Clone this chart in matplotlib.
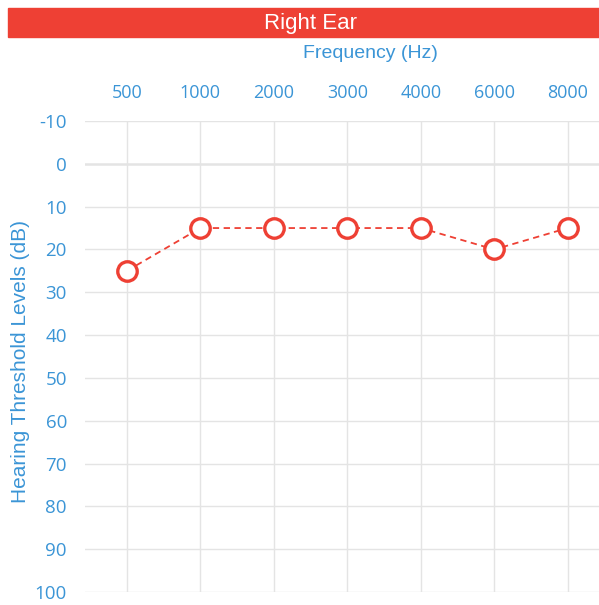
import matplotlib
matplotlib.use("Agg")
import matplotlib.pyplot as plt
from matplotlib.patches import Rectangle

# audiogram data, right ear
freq_labels = ["500", "1000", "2000", "3000", "4000", "6000", "8000"]
threshold_db = [25, 15, 15, 15, 15, 20, 15]
y_ticks = [-10, 0, 10, 20, 30, 40, 50, 60, 70, 80, 90, 100]

blue = "#3b95d6"
red = "#ee4034"
plt.rcParams['font.family'] = ['Open Sans', 'DejaVu Sans']
plt.rcParams['axes.unicode_minus'] = False
label_font = ['Liberation Sans', 'DejaVu Sans']

fig = plt.figure(figsize=(5.99, 6.05), dpi=100)
ax = fig.add_axes([85 / 599, 1 - 592 / 605, 1 - 85 / 599 + 0.03, (592 - 121) / 605])

x = list(range(len(freq_labels)))
ax.plot(x, threshold_db, color=red, ls=(0, (3.5, 2.5)), lw=1.3, marker="o", ms=14,
        mfc="white", mec=red, mew=2.4, zorder=3, clip_on=False)

ax.set_ylim(100, -10)
ax.set_xlim(-0.57, 6.67)
ax.set_yticks(y_ticks)
ax.set_xticks(x)
ax.set_xticklabels(freq_labels)
ax.xaxis.tick_top()
ax.xaxis.set_label_position("top")
ax.set_xlabel("Frequency (Hz)", color=blue, fontsize=14, family=label_font, va="center")
ax.xaxis.set_label_coords(0.536, 1.144)
ax.set_ylabel("Hearing Threshold Levels (dB)", color=blue, fontsize=15,
              family=label_font, va="center")
ax.yaxis.set_label_coords(-0.122, 0.49)
ax.tick_params(axis="both", length=0, colors=blue, labelsize=13)
ax.tick_params(axis="y", labelsize=13.5)
ax.tick_params(axis="x", pad=14)
ax.tick_params(axis="y", pad=13)

ax.grid(True, color="#e4e4e4", lw=1)
ax.axhline(0, color="#a0a0a0", lw=1, zorder=1)
for s in ax.spines.values():
    s.set_visible(False)

# red banner on top
fig.patches.append(Rectangle((8 / 599, 1 - 37 / 605), 1, 29 / 605,
                             transform=fig.transFigure, color=red, zorder=0))
fig.text(310 / 599, 1 - 23 / 605, "Right Ear", color="white", fontsize=16,
         family=label_font, ha="center", va="center")

fig.savefig("out.png", dpi=100)
